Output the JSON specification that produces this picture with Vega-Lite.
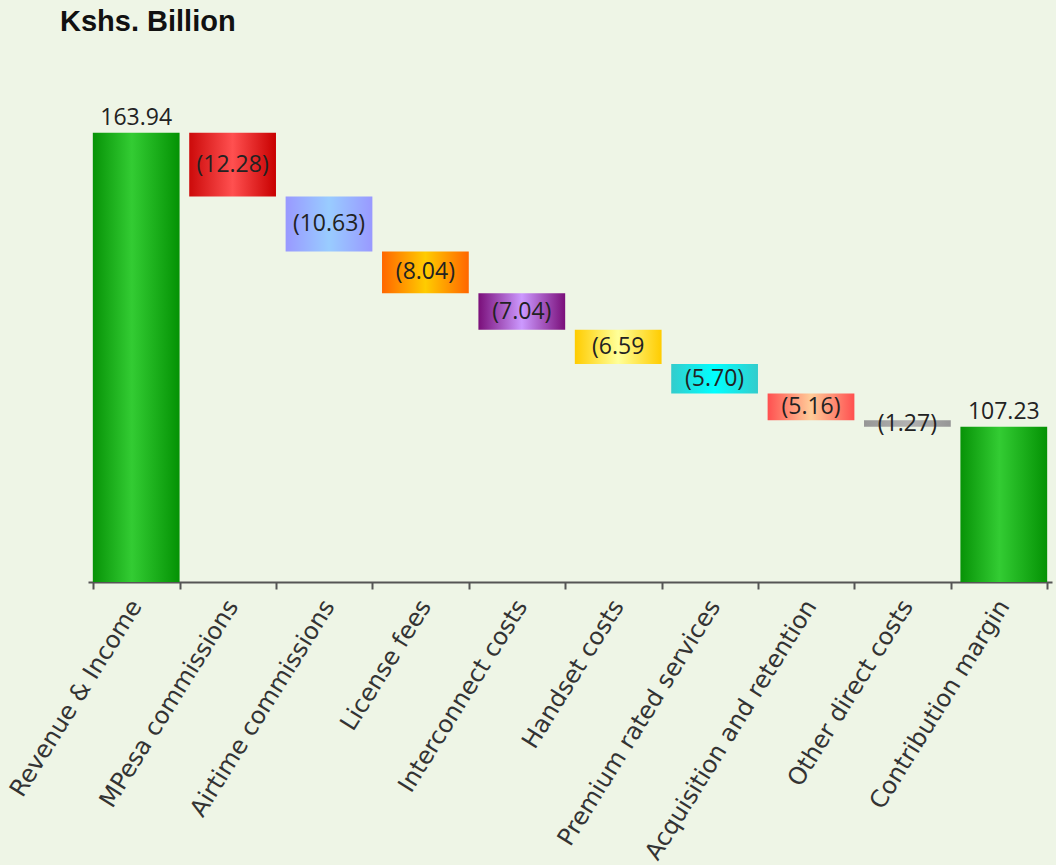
{
  "$schema": "https://vega.github.io/schema/vega-lite/v6.json",
  "autosize": "none",
  "width": 964,
  "height": 491,
  "padding": {"left": 88, "top": 91, "right": 4, "bottom": 283},
  "background": "#eef5e6",
  "title": {
    "text": "Kshs. Billion",
    "anchor": "start",
    "frame": "group",
    "dx": -28,
    "offset": 25,
    "baseline": "bottom",
    "font": "Liberation Sans",
    "fontSize": 29,
    "fontWeight": "bold",
    "color": "#111111"
  },
  "config": {"view": {"stroke": null}},
  "data": {
    "values": [
      {"category": "Revenue & Income", "start": 0, "end": 163.94, "label": "163.94"},
      {"category": "MPesa commissions", "start": 163.94, "end": 151.66, "label": "(12.28)"},
      {"category": "Airtime commissions", "start": 151.66, "end": 141.03, "label": "(10.63)"},
      {"category": "License fees", "start": 141.03, "end": 132.99, "label": "(8.04)"},
      {"category": "Interconnect costs", "start": 132.99, "end": 125.95, "label": "(7.04)"},
      {"category": "Handset costs", "start": 125.95, "end": 119.36, "label": "(6.59"},
      {"category": "Premium rated services", "start": 119.36, "end": 113.66, "label": "(5.70)"},
      {"category": "Acquisition and retention", "start": 113.66, "end": 108.5, "label": "(5.16)"},
      {"category": "Other direct costs", "start": 108.5, "end": 107.23, "label": "(1.27)"},
      {"category": "Contribution margin", "start": 0, "end": 107.23, "label": "107.23"}
    ]
  },
  "encoding": {
    "x": {
      "field": "category",
      "type": "nominal",
      "sort": null,
      "scale": {
        "domain": ["Revenue & Income", "MPesa commissions", "Airtime commissions", "License fees", "Interconnect costs", "Handset costs", "Premium rated services", "Acquisition and retention", "Other direct costs", "Contribution margin"],
        "paddingInner": 0.1,
        "paddingOuter": 0.05
      },
      "axis": {
        "title": null,
        "labelAngle": -58,
        "labelFont": "DejaVu Sans",
        "labelFontSize": 24,
        "labelColor": "#333333",
        "labelPadding": 13,
        "labelLimit": 400,
        "tickBand": "extent",
        "tickSize": 7,
        "tickColor": "#555555",
        "tickWidth": 2,
        "domainColor": "#555555",
        "domainWidth": 2
      }
    }
  },
  "layer": [
    {
      "transform": [{"filter": {"field": "category", "oneOf": ["Revenue & Income", "Contribution margin"]}}],
      "mark": {"type": "bar", "clip": true, "color": {"gradient": "linear", "x1": 0, "y1": 0, "x2": 1, "y2": 0, "stops": [{"offset": 0, "color": "#079307"}, {"offset": 0.45, "color": "#33cc33"}, {"offset": 1, "color": "#049204"}]}},
      "encoding": {
        "y": {"field": "start", "type": "quantitative", "scale": {"domain": [77.3, 172], "clamp": true, "zero": false, "nice": false}, "axis": null},
        "y2": {"field": "end"}
      }
    },
    {
      "transform": [{"filter": "datum.category == 'MPesa commissions'"}],
      "mark": {"type": "bar", "color": {"gradient": "linear", "x1": 0, "y1": 0, "x2": 1, "y2": 0, "stops": [{"offset": 0, "color": "#cc0a0a"}, {"offset": 0.5, "color": "#ff5050"}, {"offset": 1, "color": "#c80000"}]}},
      "encoding": {"y": {"field": "start", "type": "quantitative"}, "y2": {"field": "end"}}
    },
    {
      "transform": [{"filter": "datum.category == 'Airtime commissions'"}],
      "mark": {"type": "bar", "color": {"gradient": "linear", "x1": 0, "y1": 0, "x2": 1, "y2": 0, "stops": [{"offset": 0, "color": "#9999ff"}, {"offset": 0.5, "color": "#99ccff"}, {"offset": 1, "color": "#9999ff"}]}},
      "encoding": {"y": {"field": "start", "type": "quantitative"}, "y2": {"field": "end"}}
    },
    {
      "transform": [{"filter": "datum.category == 'License fees'"}],
      "mark": {"type": "bar", "color": {"gradient": "linear", "x1": 0, "y1": 0, "x2": 1, "y2": 0, "stops": [{"offset": 0, "color": "#ff6600"}, {"offset": 0.5, "color": "#ffcc00"}, {"offset": 1, "color": "#ff6600"}]}},
      "encoding": {"y": {"field": "start", "type": "quantitative"}, "y2": {"field": "end"}}
    },
    {
      "transform": [{"filter": "datum.category == 'Interconnect costs'"}],
      "mark": {"type": "bar", "color": {"gradient": "linear", "x1": 0, "y1": 0, "x2": 1, "y2": 0, "stops": [{"offset": 0, "color": "#7a0f7a"}, {"offset": 0.5, "color": "#cc99ff"}, {"offset": 1, "color": "#7a0f7a"}]}},
      "encoding": {"y": {"field": "start", "type": "quantitative"}, "y2": {"field": "end"}}
    },
    {
      "transform": [{"filter": "datum.category == 'Handset costs'"}],
      "mark": {"type": "bar", "color": {"gradient": "linear", "x1": 0, "y1": 0, "x2": 1, "y2": 0, "stops": [{"offset": 0, "color": "#ffcc00"}, {"offset": 0.5, "color": "#ffff99"}, {"offset": 1, "color": "#ffcc00"}]}},
      "encoding": {"y": {"field": "start", "type": "quantitative"}, "y2": {"field": "end"}}
    },
    {
      "transform": [{"filter": "datum.category == 'Premium rated services'"}],
      "mark": {"type": "bar", "color": {"gradient": "linear", "x1": 0, "y1": 0, "x2": 1, "y2": 0, "stops": [{"offset": 0, "color": "#33cccc"}, {"offset": 0.5, "color": "#00ffff"}, {"offset": 1, "color": "#33cccc"}]}},
      "encoding": {"y": {"field": "start", "type": "quantitative"}, "y2": {"field": "end"}}
    },
    {
      "transform": [{"filter": "datum.category == 'Acquisition and retention'"}],
      "mark": {"type": "bar", "color": {"gradient": "linear", "x1": 0, "y1": 0, "x2": 1, "y2": 0, "stops": [{"offset": 0, "color": "#ff5050"}, {"offset": 0.5, "color": "#ffcc99"}, {"offset": 1, "color": "#ff5050"}]}},
      "encoding": {"y": {"field": "start", "type": "quantitative"}, "y2": {"field": "end"}}
    },
    {
      "transform": [{"filter": "datum.category == 'Other direct costs'"}],
      "mark": {"type": "bar", "color": {"gradient": "linear", "x1": 0, "y1": 0, "x2": 1, "y2": 0, "stops": [{"offset": 0, "color": "#969696"}, {"offset": 0.5, "color": "#b2b2b2"}, {"offset": 1, "color": "#969696"}]}},
      "encoding": {"y": {"field": "start", "type": "quantitative"}, "y2": {"field": "end"}}
    },
    {
      "transform": [{"filter": {"field": "category", "oneOf": ["Revenue & Income", "Contribution margin"]}}],
      "mark": {"type": "text", "baseline": "bottom", "dy": -3, "font": "Open Sans", "fontSize": 23, "color": "#222222"},
      "encoding": {"y": {"field": "end", "type": "quantitative"}, "text": {"field": "label"}}
    },
    {
      "transform": [
        {"filter": {"not": {"field": "category", "oneOf": ["Revenue & Income", "Contribution margin"]}}},
        {"calculate": "(datum.start + datum.end) / 2", "as": "mid"}
      ],
      "mark": {"type": "text", "baseline": "middle", "font": "Open Sans", "fontSize": 23, "color": "#222222"},
      "encoding": {"y": {"field": "mid", "type": "quantitative"}, "text": {"field": "label"}}
    }
  ]
}
